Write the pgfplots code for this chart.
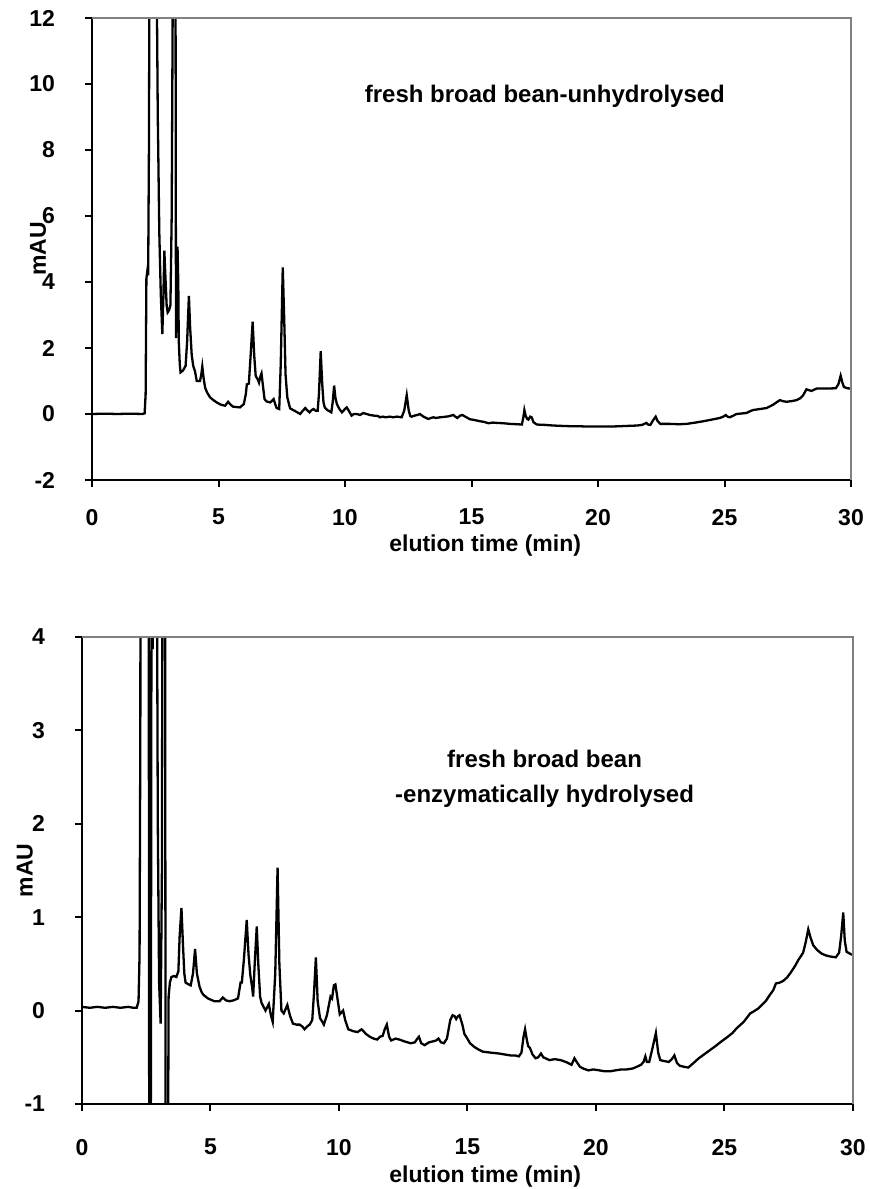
\documentclass[border=0pt]{standalone}
\usepackage{pgfplots}
\pgfplotsset{compat=1.18}
\usepackage{fontspec}
\setmainfont{Liberation Sans}
\newcommand{\chfont}{\bfseries\fontsize{11.5}{13}\selectfont}
\begin{document}
\begin{tikzpicture}
\useasboundingbox (0,0) rectangle (435pt,594.5pt);
\pgfplotsset{
  chrom/.style={
    scale only axis,
    anchor=south west,
    xmin=0, xmax=30,
    xtick={0,5,...,30},
    axis x line*=bottom, axis y line*=left,
    axis line style={black, line width=1pt},
    tick align=outside,
    major tick length=3.5pt,
    tick style={black, line width=1pt},
    ticklabel style={font=\chfont},
    yticklabel style={anchor=east, inner xsep=14.8pt},
    /pgf/number format/assume math mode=true,
    label style={font=\chfont},
    xlabel={elution time (min)},
    ylabel={mAU},
  }
}
% ---------- top chart ----------
\begin{axis}[chrom, name=top, at={(46pt,354.5pt)}, width=379.5pt, height=231pt,
  ymin=-2, ymax=12, ytick={-2,0,...,12},
  xticklabel style={anchor=north, inner ysep=10.8pt},
  xlabel style={at={(axis description cs:0.518,-0.141)}, anchor=center},
  ylabel style={at={(axis description cs:-0.071,0.5)}, anchor=center}]
\addplot[black, line width=1.15pt] coordinates {
(0,0) (0.5,0.01) (1.0,0) (1.5,0.01) (2.0,0) (2.08,0.02) (2.12,0.6) (2.15,4.1) (2.19,4.35) (2.22,4.2) (2.25,8) (2.28,16) (2.45,20) (2.56,13) (2.6,9) (2.62,7.9) (2.66,5.5) (2.72,3.6) (2.78,2.42) (2.82,3.5) (2.86,4.95) (2.9,4.2) (2.95,3.3) (2.99,3.08) (3.05,3.15) (3.1,3.3) (3.15,6) (3.2,14) (3.3,14) (3.32,2.3) (3.35,3.5) (3.38,5.07) (3.41,4) (3.43,2.2) (3.47,1.5) (3.5,1.26) (3.6,1.32) (3.7,1.46) (3.76,2.2) (3.83,3.58) (3.88,2.6) (3.94,1.8) (4.0,1.46) (4.07,1.3) (4.14,1.0) (4.27,1.0) (4.32,1.2) (4.36,1.44) (4.41,1.1) (4.47,0.8) (4.55,0.65) (4.67,0.5) (4.8,0.42) (4.93,0.35) (5.1,0.28) (5.26,0.25) (5.38,0.37) (5.48,0.28) (5.58,0.22) (5.85,0.2) (6.0,0.3) (6.08,0.6) (6.12,0.9) (6.2,0.92) (6.28,1.9) (6.35,2.8) (6.41,1.8) (6.47,1.15) (6.55,1.05) (6.6,0.95) (6.66,1.15) (6.7,1.23) (6.75,0.9) (6.82,0.45) (6.9,0.38) (7.05,0.35) (7.18,0.45) (7.24,0.3) (7.3,0.18) (7.4,0.15) (7.46,1.5) (7.54,4.44) (7.6,2.8) (7.65,1.2) (7.72,0.5) (7.83,0.17) (8.0,0.1) (8.23,0.0) (8.33,0.1) (8.43,0.18) (8.52,0.1) (8.6,0.05) (8.68,0.12) (8.76,0.15) (8.84,0.1) (8.92,0.1) (8.97,0.6) (9.04,1.9) (9.1,0.9) (9.15,0.35) (9.2,0.2) (9.3,0.12) (9.46,0.05) (9.52,0.4) (9.57,0.86) (9.62,0.5) (9.68,0.3) (9.78,0.15) (9.88,0.05) (10.0,0.15) (10.07,0.2) (10.15,0.1) (10.26,-0.05) (10.35,0.0) (10.46,0.0) (10.6,-0.03) (10.72,0.03) (10.85,0.0) (10.98,-0.03) (11.15,-0.05) (11.3,-0.06) (11.38,-0.1) (11.5,-0.08) (11.6,-0.1) (11.78,-0.08) (11.9,-0.1) (12.05,-0.08) (12.24,-0.1) (12.34,0.1) (12.44,0.57) (12.52,0.1) (12.58,-0.06) (12.63,-0.08) (12.75,-0.05) (12.9,-0.02) (12.96,0.0) (13.1,-0.08) (13.29,-0.15) (13.4,-0.12) (13.49,-0.1) (13.6,-0.12) (13.75,-0.1) (13.9,-0.09) (14.1,-0.07) (14.28,-0.03) (14.36,-0.08) (14.44,-0.12) (14.55,-0.05) (14.64,-0.03) (14.8,-0.1) (14.94,-0.16) (15.1,-0.18) (15.34,-0.22) (15.5,-0.24) (15.67,-0.28) (15.85,-0.26) (16.0,-0.27) (16.25,-0.28) (16.53,-0.3) (16.8,-0.31) (16.99,-0.32) (17.05,-0.1) (17.09,0.12) (17.14,-0.05) (17.2,-0.15) (17.25,-0.17) (17.32,-0.08) (17.38,-0.1) (17.45,-0.25) (17.58,-0.32) (17.9,-0.33) (18.24,-0.35) (18.55,-0.36) (18.9,-0.37) (19.2,-0.37) (19.56,-0.38) (19.9,-0.38) (20.22,-0.38) (20.55,-0.38) (20.88,-0.37) (21.2,-0.36) (21.54,-0.35) (21.75,-0.33) (21.91,-0.27) (21.98,-0.32) (22.07,-0.33) (22.17,-0.2) (22.28,-0.08) (22.36,-0.22) (22.47,-0.3) (22.84,-0.3) (23.2,-0.31) (23.5,-0.3) (23.85,-0.26) (24.16,-0.22) (24.5,-0.17) (24.82,-0.12) (24.95,-0.08) (25.05,-0.03) (25.12,-0.08) (25.21,-0.1) (25.35,-0.05) (25.47,0.0) (25.87,0.03) (26.0,0.08) (26.13,0.12) (26.4,0.15) (26.66,0.18) (26.92,0.28) (27.05,0.35) (27.19,0.42) (27.3,0.39) (27.45,0.37) (27.65,0.39) (27.85,0.42) (28.0,0.48) (28.11,0.57) (28.24,0.75) (28.34,0.72) (28.44,0.7) (28.64,0.77) (29.03,0.77) (29.4,0.78) (29.5,0.9) (29.59,1.16) (29.66,0.95) (29.72,0.82) (29.85,0.78) (30.0,0.77)
};
\node[font=\bfseries\fontsize{12}{14}\selectfont] at (axis cs:17.9,9.64) {fresh broad bean-unhydrolysed};
\end{axis}
\draw[color=gray, line width=1pt] (top.north west) -- (top.north east) -- (top.south east);
% ---------- bottom chart ----------
\begin{axis}[chrom, name=bot, at={(41pt,42.5pt)}, width=385.5pt, height=233.5pt,
  ymin=-1, ymax=4, ytick={-1,0,...,4},
  xticklabel style={anchor=north, inner ysep=13.8pt},
  xlabel style={at={(axis description cs:0.523,-0.156)}, anchor=center},
  ylabel style={at={(axis description cs:-0.074,0.5)}, anchor=center}]
\addplot[black, line width=1.15pt] coordinates {
(0,0.04) (0.3,0.03) (0.6,0.04) (0.9,0.03) (1.2,0.04) (1.5,0.03) (1.8,0.04) (2.0,0.03) (2.13,0.03) (2.2,0.1) (2.24,0.6) (2.27,3) (2.3,12) (2.45,15) (2.58,10) (2.62,-3) (2.67,-3) (2.71,6) (2.75,3.87) (2.79,6) (2.9,6) (2.95,2) (3.0,0.3) (3.06,-0.14) (3.11,1.5) (3.15,8) (3.22,8) (3.26,-3) (3.33,-3) (3.37,0.15) (3.42,0.3) (3.48,0.36) (3.58,0.37) (3.67,0.36) (3.75,0.42) (3.8,0.8) (3.87,1.1) (3.93,0.7) (3.98,0.4) (4.03,0.3) (4.15,0.28) (4.23,0.27) (4.32,0.4) (4.4,0.66) (4.47,0.4) (4.57,0.26) (4.65,0.2) (4.72,0.17) (4.9,0.13) (5.15,0.1) (5.35,0.1) (5.48,0.14) (5.6,0.11) (5.74,0.1) (5.9,0.11) (6.07,0.13) (6.17,0.3) (6.22,0.3) (6.3,0.55) (6.41,0.97) (6.48,0.6) (6.55,0.38) (6.62,0.25) (6.66,0.15) (6.72,0.5) (6.8,0.9) (6.86,0.5) (6.93,0.15) (6.99,0.08) (7.14,0.0) (7.27,0.07) (7.35,-0.05) (7.42,-0.12) (7.52,0.4) (7.61,1.53) (7.68,0.5) (7.76,0.0) (7.85,-0.03) (7.99,0.06) (8.1,-0.06) (8.21,-0.14) (8.35,-0.15) (8.47,-0.15) (8.57,-0.17) (8.66,-0.2) (8.76,-0.17) (8.86,-0.15) (8.96,-0.1) (9.03,0.2) (9.1,0.57) (9.17,0.1) (9.26,-0.08) (9.35,-0.12) (9.41,-0.15) (9.53,-0.05) (9.6,0.05) (9.67,0.15) (9.73,0.13) (9.8,0.27) (9.86,0.28) (9.93,0.15) (10.03,-0.04) (10.16,0.0) (10.24,-0.1) (10.36,-0.2) (10.55,-0.22) (10.72,-0.23) (10.88,-0.2) (11.05,-0.25) (11.2,-0.28) (11.35,-0.3) (11.49,-0.31) (11.6,-0.28) (11.7,-0.27) (11.78,-0.2) (11.86,-0.15) (11.95,-0.28) (12.03,-0.32) (12.2,-0.3) (12.35,-0.31) (12.55,-0.33) (12.79,-0.35) (12.95,-0.34) (13.05,-0.3) (13.11,-0.28) (13.2,-0.35) (13.33,-0.37) (13.5,-0.34) (13.65,-0.33) (13.78,-0.32) (13.87,-0.3) (13.97,-0.34) (14.08,-0.35) (14.2,-0.3) (14.33,-0.1) (14.42,-0.05) (14.5,-0.06) (14.56,-0.09) (14.63,-0.06) (14.69,-0.05) (14.8,-0.15) (14.88,-0.25) (14.95,-0.28) (15.1,-0.35) (15.27,-0.39) (15.45,-0.42) (15.6,-0.44) (15.9,-0.45) (16.24,-0.46) (16.45,-0.47) (16.67,-0.48) (16.85,-0.48) (17.0,-0.49) (17.1,-0.45) (17.18,-0.28) (17.24,-0.2) (17.3,-0.3) (17.36,-0.38) (17.43,-0.4) (17.53,-0.47) (17.65,-0.51) (17.75,-0.5) (17.86,-0.46) (17.95,-0.5) (18.19,-0.53) (18.4,-0.52) (18.62,-0.53) (18.83,-0.55) (19.05,-0.58) (19.16,-0.51) (19.25,-0.55) (19.37,-0.6) (19.5,-0.62) (19.7,-0.64) (19.9,-0.63) (20.13,-0.64) (20.35,-0.65) (20.56,-0.65) (20.75,-0.64) (20.99,-0.63) (21.2,-0.63) (21.43,-0.62) (21.6,-0.6) (21.75,-0.58) (21.85,-0.55) (21.92,-0.49) (21.98,-0.55) (22.07,-0.55) (22.2,-0.4) (22.33,-0.24) (22.42,-0.45) (22.5,-0.53) (22.65,-0.54) (22.83,-0.55) (22.95,-0.52) (23.05,-0.48) (23.15,-0.56) (23.26,-0.59) (23.4,-0.6) (23.59,-0.61) (23.8,-0.56) (24.0,-0.51) (24.2,-0.47) (24.45,-0.42) (24.65,-0.38) (24.88,-0.33) (25.08,-0.29) (25.31,-0.24) (25.47,-0.19) (25.75,-0.12) (26.0,-0.03) (26.13,-0.01) (26.3,0.02) (26.45,0.06) (26.6,0.1) (26.77,0.17) (26.9,0.22) (27.0,0.29) (27.15,0.3) (27.3,0.32) (27.45,0.36) (27.61,0.42) (27.75,0.48) (27.87,0.54) (28.06,0.62) (28.15,0.72) (28.26,0.87) (28.35,0.78) (28.45,0.7) (28.6,0.65) (28.78,0.61) (28.95,0.59) (29.1,0.58) (29.33,0.57) (29.46,0.62) (29.54,0.8) (29.62,1.05) (29.68,0.75) (29.75,0.63) (29.94,0.6) (30.0,0.6)
};
\node[font=\bfseries\fontsize{12}{17.5}\selectfont, align=center] at (axis cs:18,2.48) {fresh broad bean\\-enzymatically hydrolysed};
\end{axis}
\draw[color=gray, line width=1pt] (bot.north west) -- (bot.north east) -- (bot.south east);
\end{tikzpicture}
\end{document}
